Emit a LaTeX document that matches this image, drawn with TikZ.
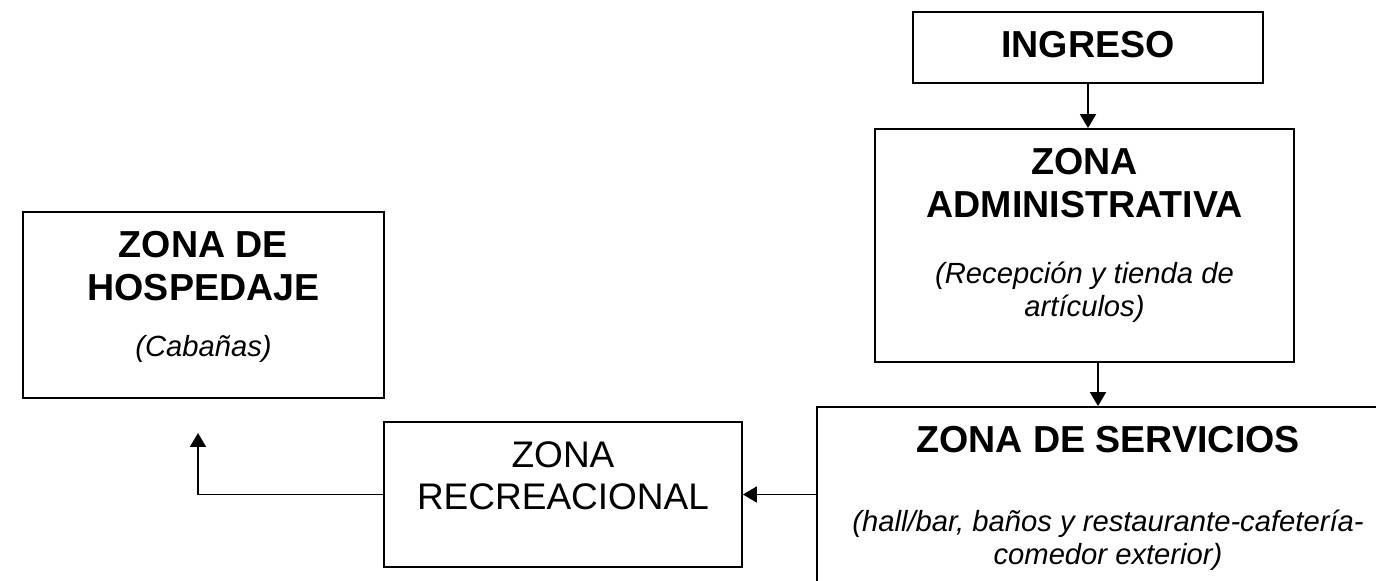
\documentclass[tikz,border=0pt]{standalone}
\usepackage{fontspec}
\setmainfont{Liberation Sans}
\usetikzlibrary{arrows.meta}
\newcommand{\zonetitle}{\fontsize{18.8}{21.5}\selectfont\bfseries}
\newcommand{\zoneplain}{\fontsize{18.5}{21.3}\selectfont}
\newcommand{\zonenote}{\fontsize{14.6}{16.8}\selectfont\itshape}
\newcommand{\zonebox}[3]{\parbox[c][#2][t]{#1}{\centering\vspace*{9.6pt}#3}}

\begin{document}
\begin{tikzpicture}[x=0.5pt,y=-0.5pt,
  zone/.style={draw,line width=0.9pt,inner sep=0pt},
  link/.style={line width=0.9pt,-{Triangle[length=7pt,width=8pt]}}]
\useasboundingbox (0,0) rectangle (1376,581);
\clip (0,0) rectangle (1376,581);
\node[zone] (ingreso) at (1088,47.5) {\zonebox{175pt}{35.5pt}{\zonetitle INGRESO}};
\node[zone] (admin) at (1084.5,245.5) {\zonebox{209.5pt}{116.5pt}{%
  {\zonetitle ZONA\\ADMINISTRATIVA\par}\vspace{16pt}%
  {\zonenote (Recepción y tienda de\\artículos)\par}}};
\node[zone] (hospedaje) at (203.5,305) {\zonebox{180.5pt}{93pt}{%
  {\zonetitle ZONA DE\\HOSPEDAJE\par}\vspace{11pt}%
  {\zonenote (Cabañas)\par}}};
\node[zone] (recreacional) at (563,494.5) {\zonebox{179pt}{72.5pt}{%
  {\zoneplain ZONA\\RECREACIONAL\par}}};
\node[zone] (servicios) at (1108,507) {\zonebox{291pt}{100pt}{%
  {\zonetitle ZONA DE SERVICIOS\par}\vspace{22.5pt}%
  {\zonenote (hall/bar, baños y restaurante-cafetería-\\comedor exterior)\par}}};
\coordinate (hospedaje-in) at (198,433);
\draw[link] (ingreso.south) -- (ingreso.south |- admin.north);
\draw[link] ([xshift=6.75pt]admin.south) -- ([xshift=6.75pt]admin.south |- servicios.north);
\draw[link] (servicios.west |- recreacional.east) -- (recreacional.east);
\draw[link] (recreacional.west) -| (hospedaje-in);
\end{tikzpicture}
\end{document}
